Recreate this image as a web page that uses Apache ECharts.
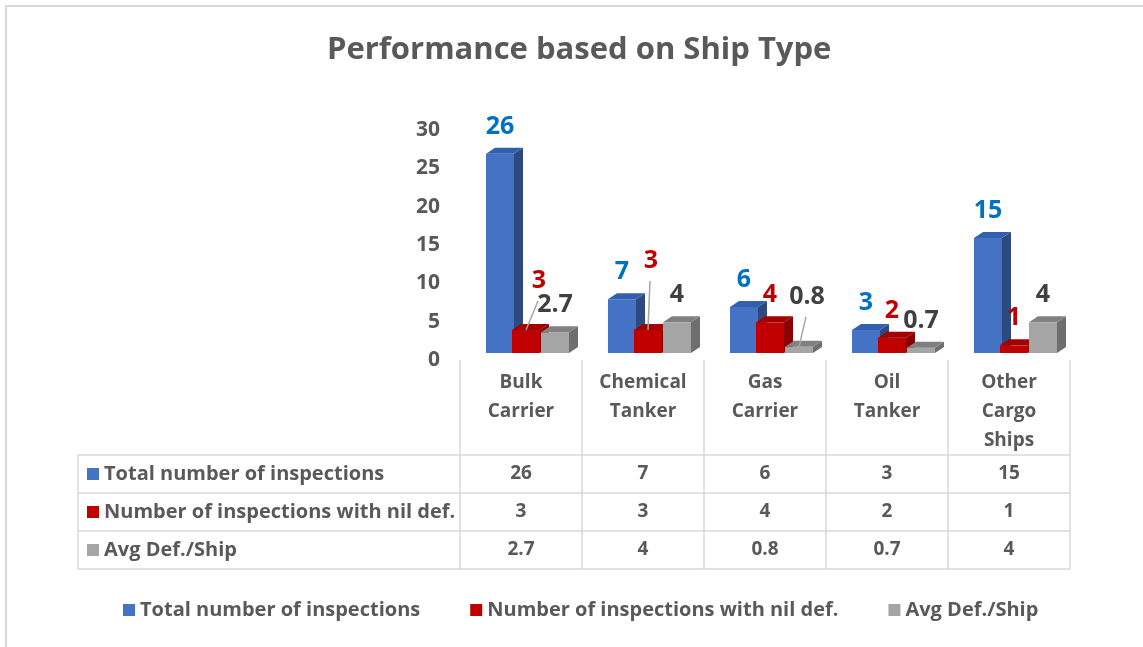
<!DOCTYPE html>
<html>
<head>
<meta charset="utf-8">
<script src="https://cdn.jsdelivr.net/npm/echarts@6/dist/echarts.min.js"></script>
<style>
html,body{margin:0;padding:0;background:#fff;}
#chart{width:1143px;height:647px;}
</style>
</head>
<body>
<div id="chart"></div>
<script>
// ---- data ----
const categories = ['Bulk\nCarrier', 'Chemical\nTanker', 'Gas\nCarrier', 'Oil\nTanker', 'Other\nCargo\nShips'];
const seriesNames = ['Total number of inspections', 'Number of inspections with nil def.', 'Avg Def./Ship'];
const totalInspections = [26, 7, 6, 3, 15];
const nilDefInspections = [3, 3, 4, 2, 1];
const avgDefPerShip = [2.7, 4, 0.8, 0.7, 4];
const yTicks = [0, 5, 10, 15, 20, 25, 30];

// ---- styles ----
const FONT = 'Open Sans';
const TXT = '#595959';
const LINE = '#D9D9D9';
const faces = [
  { front: '#4472C4', side: '#2C4A80', top: '#3360AE', label: '#0070C0' },
  { front: '#C00000', side: '#8A0000', top: '#A30000', label: '#C00000' },
  { front: '#A5A5A5', side: '#6E6E6E', top: '#808080', label: '#404040' }
];
const barOffset = [-35, -9, 20];   // front-face left edge relative to category centre (px)
const barW = 28, depthX = 9, depthY = 6, lift = 7;
// manual label displacements (Excel moved these labels, with leader lines)
const labelNudge = { '0-1': [13, -22], '1-1': [3, -42], '2-2': [8, -23] };

function renderBar(sIdx) {
  return function (params, api) {
    const ci = api.value(0), v = api.value(1);
    const c = api.coord([ci, v]);
    const c0 = api.coord([ci, 0]);
    const x0 = c[0] + barOffset[sIdx], x1 = x0 + barW;
    const yT = c[1] - lift, yB = c0[1] - lift;
    const f = faces[sIdx];
    const children = [
      { type: 'polygon', shape: { points: [[x1, yT], [x1 + depthX, yT - depthY], [x1 + depthX, yB - depthY], [x1, yB]] }, style: { fill: f.side } },
      { type: 'rect', shape: { x: x0, y: yT, width: barW, height: yB - yT }, style: { fill: f.front } },
      { type: 'polygon', shape: { points: [[x0, yT], [x0 + depthX, yT - depthY], [x1 + depthX, yT - depthY], [x1, yT]] }, style: { fill: f.top } }
    ];
    const cx = x0 + barW / 2;
    const nudge = labelNudge[ci + '-' + sIdx];
    let lx = cx, ly = yT - 27;
    if (nudge) {
      lx += nudge[0]; ly += nudge[1];
      children.push({ type: 'line', z2: 5, shape: { x1: cx, y1: yT, x2: lx - 1, y2: ly + 20 }, style: { stroke: '#A6A6A6', lineWidth: 1.5 } });
    }
    children.push({ type: 'text', z2: 10, style: { text: String(v), x: lx, y: ly, align: 'center', verticalAlign: 'middle', fill: f.label, font: 'bold 25px "' + FONT + '"' } });
    return { type: 'group', children: children };
  };
}

const allValues = [totalInspections, nilDefInspections, avgDefPerShip];

const gridLeft = 460, gridRight = 1070, axisY = 360;
const rowH = 38, headerH = 95;

const baseAxis = {
  type: 'category', data: categories, gridIndex: 0, position: 'bottom',
  axisLine: { show: false },
  axisTick: { show: true, length: headerH, lineStyle: { color: LINE, width: 1.5 } },
  axisLabel: { color: TXT, fontFamily: FONT, fontWeight: 'bold', fontSize: 19, lineHeight: 29, margin: 8 },
  splitLine: { show: false }
};
const rowAxes = allValues.map((vals, r) => ({
  type: 'category', data: vals.map(String), gridIndex: 0, position: 'bottom',
  offset: headerH + r * rowH,
  axisLine: { show: true, lineStyle: { color: LINE, width: 1.5 } },
  axisTick: { show: true, length: rowH, lineStyle: { color: LINE, width: 1.5 } },
  axisLabel: { color: TXT, fontFamily: FONT, fontWeight: 'bold', fontSize: 19, lineHeight: 20, margin: 9 }
}));
const bottomAxis = {
  type: 'category', data: categories, gridIndex: 0, position: 'bottom',
  offset: headerH + 3 * rowH,
  axisLine: { show: true, lineStyle: { color: LINE, width: 1.5 } },
  axisTick: { show: false }, axisLabel: { show: false }
};

// table left header (legend keys + names)
const tableLeft = 78;
const graphics = [
  { type: 'rect', shape: { x: 6, y: 6, width: 1300, height: 800 }, style: { fill: 'none', stroke: LINE, lineWidth: 2 }, silent: true }
];
for (let r = 0; r <= 3; r++) {
  graphics.push({ type: 'line', shape: { x1: tableLeft, y1: axisY + headerH + r * rowH, x2: gridLeft, y2: axisY + headerH + r * rowH }, style: { stroke: LINE, lineWidth: 1.5 } });
}
graphics.push({ type: 'line', shape: { x1: tableLeft, y1: axisY + headerH, x2: tableLeft, y2: axisY + headerH + 3 * rowH }, style: { stroke: LINE, lineWidth: 1.5 } });
seriesNames.forEach((name, r) => {
  const cy = axisY + headerH + r * rowH + rowH / 2;
  graphics.push({ type: 'rect', shape: { x: 87, y: cy - 6, width: 12, height: 12 }, style: { fill: faces[r].front } });
  graphics.push({ type: 'text', style: { text: name, x: 104, y: cy, verticalAlign: 'middle', align: 'left', fill: TXT, font: 'bold 20px "' + FONT + '"' } });
});

const chart = echarts.init(document.getElementById('chart'));
chart.setOption({
  backgroundColor: '#fff',
  animation: false,
  title: {
    text: 'Performance based on Ship Type', left: 322, top: 30,
    textStyle: { color: TXT, fontFamily: FONT, fontWeight: 'bold', fontSize: 31 }
  },
  legend: {
    data: seriesNames, bottom: 22, left: 118, itemGap: 50, itemWidth: 12, itemHeight: 12, icon: 'rect',
    textStyle: { color: TXT, fontFamily: FONT, fontWeight: 'bold', fontSize: 20 }
  },
  grid: { left: gridLeft, right: 1143 - gridRight, top: 130, bottom: 647 - axisY, containLabel: false },
  xAxis: [baseAxis].concat(rowAxes, [bottomAxis]),
  yAxis: {
    type: 'value', min: yTicks[0], max: yTicks[yTicks.length - 1], interval: yTicks[1] - yTicks[0],
    axisLine: { show: false }, axisTick: { show: false }, splitLine: { show: false },
    axisLabel: { color: TXT, fontFamily: FONT, fontWeight: 'bold', fontSize: 21, margin: 20 }
  },
  graphic: graphics,
  series: allValues.map((vals, s) => ({
    type: 'custom', name: seriesNames[s], xAxisIndex: 0, yAxisIndex: 0, clip: false,
    itemStyle: { color: faces[s].front },
    renderItem: renderBar(s),
    encode: { x: 0, y: 1 },
    data: vals.map((v, i) => [i, v])
  }))
});
</script>
</body>
</html>
